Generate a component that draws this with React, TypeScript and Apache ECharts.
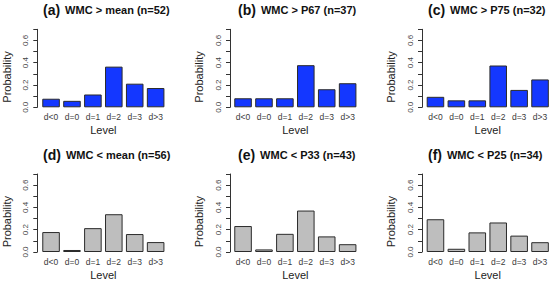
import React, { useEffect, useRef } from "react";
import * as echarts from "echarts";

const categories = ["d<0", "d=0", "d=1", "d=2", "d=3", "d>3"];
const yTicks = [0, 0.1, 0.2, 0.3, 0.4, 0.5, 0.6, 0.7];
const yLabelled = ["0.0", "0.2", "0.4", "0.6"];

const wmcAboveMean = [0.077, 0.058, 0.115, 0.365, 0.212, 0.173];
const wmcAboveP67 = [0.081, 0.081, 0.081, 0.378, 0.162, 0.216];
const wmcAboveP75 = [0.094, 0.0625, 0.0625, 0.375, 0.156, 0.25];
const wmcBelowMean = [0.179, 0.018, 0.214, 0.339, 0.161, 0.089];
const wmcBelowP33 = [0.233, 0.023, 0.163, 0.372, 0.14, 0.07];
const wmcBelowP25 = [0.294, 0.029, 0.176, 0.265, 0.147, 0.088];

const panelTags = ["(a)", "(b)", "(c)", "(d)", "(e)", "(f)"];
const panelTitles = [
  "WMC > mean (n=52)",
  "WMC > P67 (n=37)",
  "WMC > P75 (n=32)",
  "WMC < mean (n=56)",
  "WMC < P33 (n=43)",
  "WMC < P25 (n=34)",
];
const panelData = [wmcAboveMean, wmcAboveP67, wmcAboveP75, wmcBelowMean, wmcBelowP33, wmcBelowP25];

const BLUE = "#1437ff";
const GRAY = "#bebebe";
const FONT = "Liberation Sans, Arial, sans-serif";

// layout
const colLeft = [40.6, 232.6, 425];
const axisX = [37.3, 230, 422];
const probX = [7, 199, 391];
const titleLeft = [43, 238, 428];
const rowTop = [29.3, 174];
const gridW = 125.5;
const gridH = 78;
const rowTitleY = [10, 155];

export default function App() {
  const ref = useRef<HTMLDivElement>(null);
  useEffect(() => {
    if (!ref.current) return;
    const chart = echarts.init(ref.current, null, { renderer: "svg" });
    const grids: any[] = [];
    const xAxes: any[] = [];
    const yAxes: any[] = [];
    const series: any[] = [];
    const titles: any[] = [];
    const graphics: any[] = [];
    for (let i = 0; i < 6; i++) {
      const row = Math.floor(i / 3);
      const col = i % 3;
      const left = colLeft[col];
      const top = rowTop[row];
      grids.push({ left, top, width: gridW, height: gridH });
      xAxes.push({
        type: "category",
        gridIndex: i,
        data: categories,
        axisLine: { show: false },
        axisTick: { show: false },
        axisLabel: { fontSize: 8.5, color: "#3a3a3a", margin: 5, fontFamily: FONT, interval: 0 },
      });
      yAxes.push({
        type: "value",
        gridIndex: i,
        min: yTicks[0],
        max: yTicks[yTicks.length - 1],
        interval: yTicks[1] - yTicks[0],
        offset: left - axisX[col],
        axisLine: { show: true, lineStyle: { color: "#333", width: 1 } },
        axisTick: { show: true, length: 4, lineStyle: { color: "#333" } },
        splitLine: { show: false },
        axisLabel: {
          fontSize: 8,
          color: "#444",
          rotate: 90,
          margin: 8,
          fontFamily: FONT,
          formatter: (v: number) => {
            const s = v.toFixed(1);
            return yLabelled.indexOf(s) >= 0 ? s : "";
          },
        },
      });
      series.push({
        type: "bar",
        xAxisIndex: i,
        yAxisIndex: i,
        data: panelData[i],
        barCategoryGap: "16%",
        itemStyle: { color: row === 0 ? BLUE : GRAY, borderColor: "#2b2b2b", borderWidth: 1 },
      });
      titles.push({
        text: `{p|${panelTags[i]}} {t|${panelTitles[i]}}`,
        left: titleLeft[col],
        top: rowTitleY[row] - 9,
        padding: 0,
        textStyle: {
          rich: {
            p: { fontSize: 14, fontWeight: "bold", color: "#111", fontFamily: FONT },
            t: { fontSize: 11, fontWeight: "bold", color: "#111", fontFamily: FONT },
          },
        },
      });
      graphics.push({
        type: "text",
        x: probX[col],
        y: top + 47.7,
        rotation: Math.PI / 2,
        style: {
          text: "Probability",
          fontSize: 11,
          fontFamily: FONT,
          fill: "#222",
          align: "center",
          verticalAlign: "middle",
        },
      });
      graphics.push({
        type: "text",
        x: left + gridW / 2,
        y: top + gridH + 22.7,
        style: {
          text: "Level",
          fontSize: 11,
          fontFamily: FONT,
          fill: "#222",
          align: "center",
          verticalAlign: "middle",
        },
      });
    }
    chart.setOption({
      animation: false,
      backgroundColor: "#fff",
      title: titles,
      grid: grids,
      xAxis: xAxes,
      yAxis: yAxes,
      series,
      graphic: graphics,
    });
    return () => chart.dispose();
  }, []);
  return (
    <div
      ref={ref}
      style={{ position: "fixed", left: 0, top: 0, width: 553, height: 281 }}
    />
  );
}
